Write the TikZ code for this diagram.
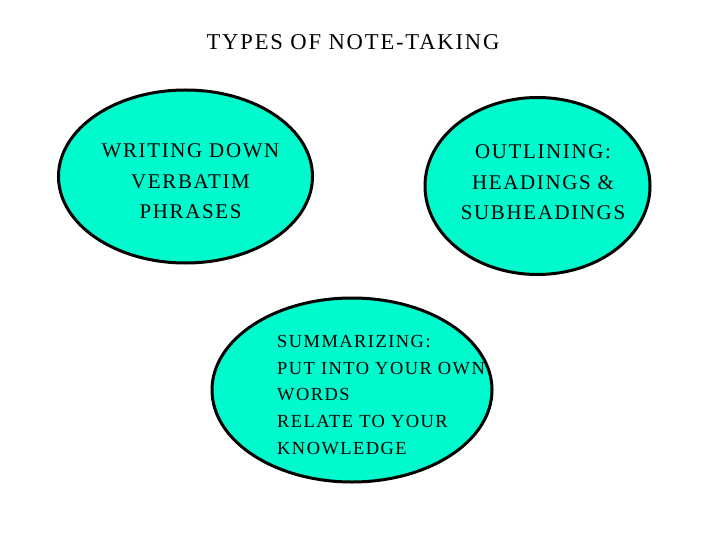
\documentclass[tikz,border=0pt]{standalone}
\usepackage{fontspec}
\setmainfont{Liberation Serif}[LetterSpace=8]
\usetikzlibrary{shapes.geometric}
\definecolor{turq}{RGB}{0,250,205}
\begin{document}
\begin{tikzpicture}[x=1bp,y=-1bp,
  oval/.style={ellipse, draw=black, line width=3bp, fill=turq, inner sep=0pt},
  lbl/.style={font=\fontsize{21}{30.5}\selectfont, align=center, inner sep=0pt, anchor=base},
  lblleft/.style={font=\fontsize{18.5}{26.75}\selectfont, align=left, inner sep=0pt, anchor=base west}]
\useasboundingbox[fill=white] (0,0) rectangle (720,540);
\node[font=\fontsize{22.7}{26}\selectfont, anchor=base, inner sep=0pt] (title) at (353,49.5) {TYPES OF NOTE-TAKING};
\node[oval, minimum width=254bp, minimum height=173bp] (e1) at (185.5,176.5) {};
\node[oval, minimum width=225bp, minimum height=177bp] (e2) at (537.5,186) {};
\node[oval, minimum width=280bp, minimum height=184bp] (e3) at (352,390) {};
\node[lbl] (t1) at (190.5,218.5) {WRITING DOWN\\VERBATIM\\PHRASES};
\node[lbl] (t2) at (543,219.5) {OUTLINING:\\HEADINGS \&\\SUBHEADINGS};
\node[lblleft] (t3) at (277,454) {SUMMARIZING:\\PUT INTO YOUR OWN\\WORDS\\RELATE TO YOUR\\KNOWLEDGE};
\end{tikzpicture}
\end{document}
